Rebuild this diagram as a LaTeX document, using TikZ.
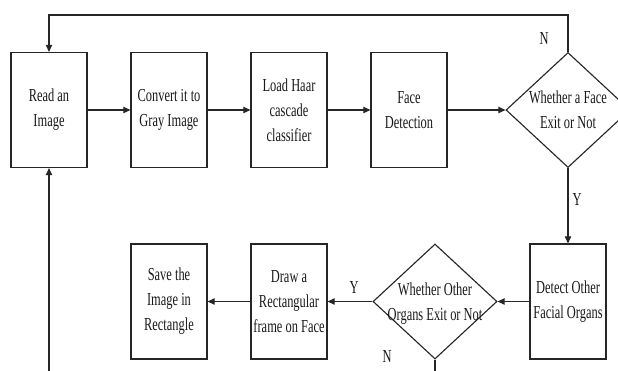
\documentclass[tikz,border=0pt]{standalone}
\usepackage{fontspec}
\setmainfont{Liberation Serif}[FakeStretch=0.68]
\usetikzlibrary{shapes.geometric, arrows.meta}

\tikzset{
  blocco/.style={draw, rectangle, minimum width=1.9cm, minimum height=2.875cm, align=center, inner sep=0pt},
  scelta/.style={draw, diamond, minimum width=3.1cm, minimum height=2.875cm, inner sep=0pt},
  freccia/.style={-{Triangle[length=5pt, width=4.5pt]}},
  etichetta/.style={inner sep=0pt}
}
\newcommand{\testoscelta}[1]{\smash{\makebox[0pt]{\raisebox{-0.3em}{\begin{tabular}{@{}c@{}}#1\end{tabular}}}}}

\begin{document}
\begin{tikzpicture}[x=0.025cm, y=-0.025cm, line width=0.8pt, draw=black!85, text=black!90,
    font=\fontsize{13pt}{17.8pt}\selectfont]
  % area
  \path[use as bounding box, clip] (0,0) rectangle (618,370);

  % riga superiore
  \node[blocco] (Leggi) at (49,110) {Read an\\Image};
  \node[blocco] (Grigio) at (169,110) {Convert it to\\Gray Image};
  \node[blocco] (Haar) at (289,110) {Load Haar\\cascade\\classifier};
  \node[blocco] (Volto) at (409,110) {Face\\Detection};
  \node[scelta] (SceltaVolto) at (568,110) {\testoscelta{Whether a Face\\Exit or Not}};

  % riga inferiore
  \node[blocco] (Organi) at (568,301.5) {Detect Other\\Facial Organs};
  \node[scelta] (SceltaOrgani) at (435,301.5) {\testoscelta{Whether Other\\Organs Exit or Not}};
  \node[blocco] (Cornice) at (289,301.5) {Draw a\\Rectangular\\frame on Face};
  \node[blocco] (Salva) at (169,301.5) {Save the\\Image in\\Rectangle};

  % punti liberi
  \coordinate (Anello) at (49,15);
  \coordinate (Ritorno) at (49,372);
  \coordinate (FineN) at (435,372);

  % etichette
  \node[etichetta] (NoVolto) at (544,39) {N};
  \node[etichetta] (SiVolto) at (577,200) {Y};
  \node[etichetta] (SiOrgani) at (354,288) {Y};
  \node[etichetta] (NoOrgani) at (387,357) {N};

  % frecce
  \draw[freccia] (Leggi) -- (Grigio);
  \draw[freccia] (Grigio) -- (Haar);
  \draw[freccia] (Haar) -- (Volto);
  \draw[freccia] (Volto) -- (SceltaVolto);
  \draw[freccia] (SceltaVolto.north) |- (Anello) -- (Leggi.north);
  \draw[freccia] (SceltaVolto) -- (Organi);
  \draw[freccia] (Organi) -- (SceltaOrgani);
  \draw[freccia] (SceltaOrgani) -- (Cornice);
  \draw[freccia] (Cornice) -- (Salva);
  \draw (SceltaOrgani.south) -- (FineN);
  \draw[freccia] (Ritorno) -- (Leggi.south);
\end{tikzpicture}
\end{document}
